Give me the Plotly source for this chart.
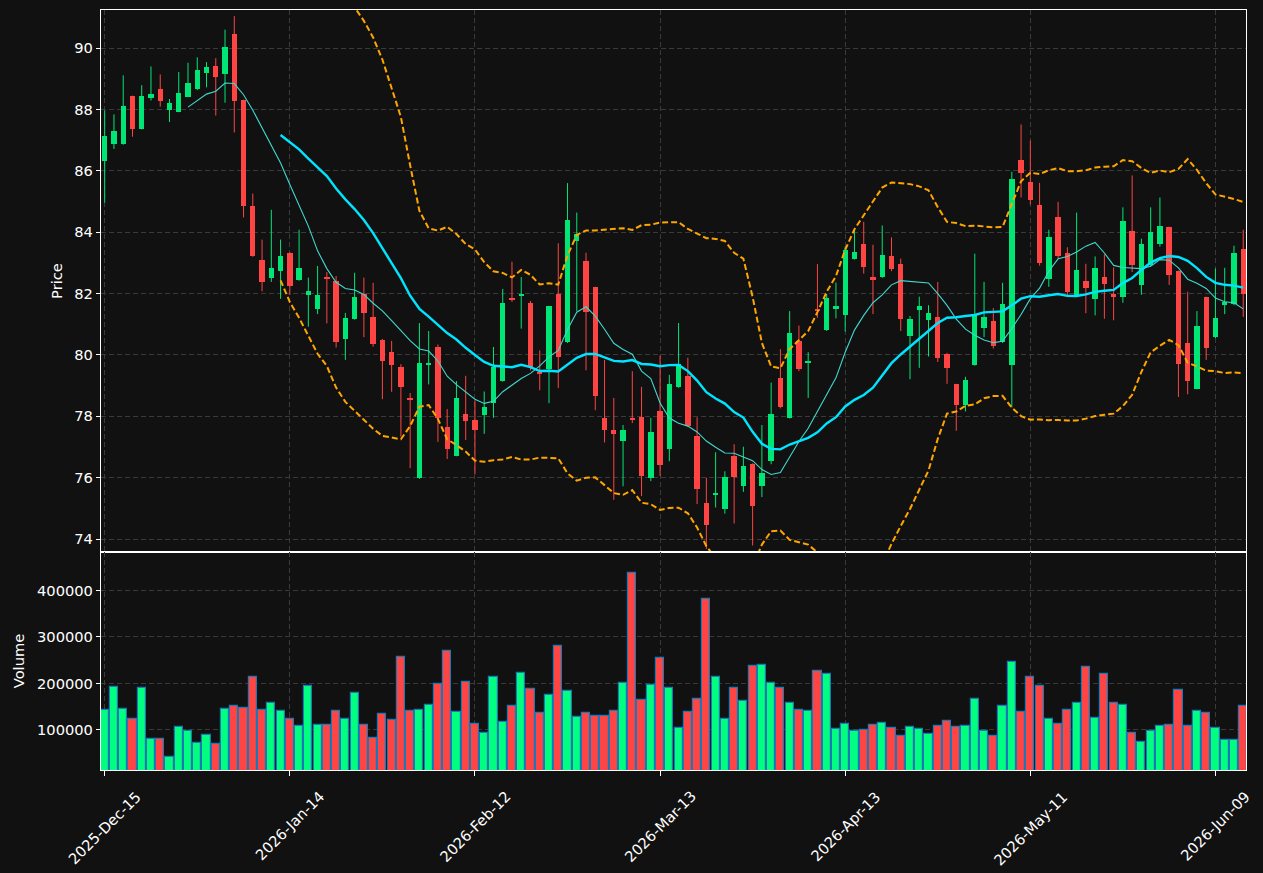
import numpy as np
import pandas as pd
import plotly.graph_objects as go

# ---------------- data ----------------
holidays = ["2025-12-25", "2026-01-01", "2026-01-19", "2026-02-16", "2026-04-03", "2026-05-25"]
dates = pd.bdate_range("2025-12-15", periods=124, freq="C", holidays=holidays)
date_labels = [d.strftime("%Y-%b-%d") for d in dates]

opens = [86.32, 86.87, 86.87, 88.43, 87.37, 88.37, 88.67, 87.99, 87.93, 88.42,
         88.65, 89.20, 89.42, 89.16, 90.46, 88.30, 84.87, 83.10, 82.51, 82.74,
         83.31, 82.44, 81.95, 81.49, 82.53, 82.42, 80.52, 81.17, 81.99, 81.23,
         80.50, 80.11, 79.62, 78.58, 75.98, 79.67, 80.27, 77.66, 76.72, 78.09,
         77.89, 78.03, 78.43, 79.15, 81.84, 81.91, 81.70, 79.43, 79.53, 81.99,
         80.41, 83.71, 83.07, 82.20, 77.95, 77.57, 77.21, 77.93, 77.98, 75.98,
         78.18, 76.92, 78.95, 79.32, 77.37, 75.18, 75.45, 74.99, 76.71, 75.72,
         76.45, 75.72, 76.55, 79.24, 77.95, 80.44, 79.75, 81.51, 80.80, 81.52,
         81.29, 83.13, 83.60, 82.53, 82.53, 83.23, 82.97, 80.61, 81.45, 81.13,
         81.25, 80.03, 79.04, 78.38, 79.67, 80.89, 81.11, 80.41, 79.67, 86.35,
         85.62, 84.88, 82.47, 84.51, 83.33, 81.92, 82.42, 81.82, 82.53, 81.98,
         81.90, 84.03, 82.28, 82.92, 83.62, 84.16, 82.73, 80.40, 78.90, 81.88,
         80.57, 81.62, 81.67, 83.44]
highs = [87.97, 87.84, 89.11, 88.45, 88.79, 89.40, 89.14, 88.34, 89.22, 89.52,
         89.70, 89.54, 89.67, 90.60, 91.04, 88.32, 85.26, 83.76, 84.73, 83.76,
         83.35, 84.08, 82.52, 82.90, 82.70, 82.57, 81.37, 82.68, 82.52, 82.35,
         80.52, 80.46, 79.70, 78.76, 81.04, 80.78, 80.34, 78.24, 79.15, 79.32,
         78.52, 78.81, 80.26, 82.15, 83.04, 82.54, 81.76, 80.15, 81.60, 83.64,
         85.60, 84.64, 83.33, 82.22, 79.84, 78.60, 77.72, 79.47, 78.96, 77.95,
         79.98, 79.35, 81.04, 79.91, 77.97, 76.00, 76.83, 76.21, 77.09, 77.01,
         76.47, 77.72, 79.10, 80.19, 81.43, 80.96, 80.09, 82.96, 81.99, 82.36,
         83.53, 84.05, 84.34, 83.59, 84.22, 83.83, 83.14, 81.27, 81.90, 81.62,
         82.38, 80.07, 79.06, 79.29, 83.30, 82.38, 81.53, 82.35, 85.97, 87.51,
         86.99, 85.61, 84.08, 84.99, 83.51, 84.64, 82.97, 83.21, 83.28, 82.85,
         84.81, 85.85, 83.79, 84.81, 85.13, 84.18, 82.75, 82.06, 81.43, 81.90,
         82.82, 82.84, 83.56, 84.08]
lows = [84.96, 86.71, 86.85, 87.11, 87.35, 88.29, 88.09, 87.59, 87.91, 88.40,
        88.63, 88.72, 87.80, 88.22, 87.25, 84.48, 83.20, 82.07, 82.38, 81.83,
        81.96, 82.42, 80.92, 81.33, 81.03, 80.24, 79.84, 81.15, 80.58, 80.27,
        78.56, 78.80, 77.34, 76.31, 75.96, 79.04, 77.17, 76.61, 76.70, 77.23,
        76.12, 77.43, 77.95, 79.13, 81.73, 80.86, 79.50, 78.85, 78.43, 78.92,
        80.39, 81.42, 79.50, 78.20, 77.15, 75.28, 75.72, 77.78, 75.40, 75.89,
        76.06, 76.54, 78.93, 77.67, 75.14, 73.68, 75.03, 74.83, 74.51, 75.54,
        73.79, 75.37, 76.44, 78.26, 77.93, 79.47, 78.60, 81.21, 80.78, 81.19,
        80.76, 83.11, 82.65, 81.33, 82.51, 82.73, 80.78, 79.21, 79.58, 79.95,
        79.77, 79.06, 77.53, 78.16, 79.65, 80.58, 80.21, 80.39, 78.29, 85.13,
        84.90, 82.91, 82.22, 83.16, 81.92, 81.90, 81.36, 81.29, 81.18, 81.13,
        81.70, 82.70, 81.96, 82.90, 83.53, 82.28, 78.63, 78.72, 78.88, 79.84,
        80.55, 81.33, 81.62, 81.24]
closes = [87.14, 87.30, 88.11, 87.37, 88.45, 88.50, 88.28, 88.21, 88.53, 88.87,
          89.29, 89.38, 89.07, 90.03, 88.28, 84.86, 83.22, 82.37, 82.82, 83.24,
          82.25, 82.85, 82.07, 81.97, 82.49, 80.41, 81.19, 81.90, 81.36, 80.36,
          79.79, 79.67, 78.95, 78.56, 79.75, 79.75, 77.95, 76.95, 78.60, 77.84,
          77.55, 78.32, 79.61, 81.70, 81.82, 81.99, 79.61, 79.38, 81.58, 79.92,
          84.39, 83.93, 81.39, 78.65, 77.55, 77.41, 77.56, 77.89, 76.06, 77.49,
          76.43, 79.04, 79.70, 77.69, 75.64, 74.46, 75.51, 76.02, 76.02, 76.39,
          75.09, 76.14, 78.09, 78.32, 80.70, 79.53, 79.81, 81.45, 81.84, 81.58,
          83.41, 83.37, 82.88, 82.45, 83.26, 82.79, 81.18, 81.18, 81.58, 81.37,
          79.90, 79.58, 78.37, 79.19, 81.31, 81.23, 80.30, 81.66, 85.73, 85.93,
          85.05, 83.01, 83.86, 83.24, 82.04, 82.76, 82.18, 82.85, 82.30, 81.89,
          84.35, 82.92, 83.61, 84.00, 84.19, 82.59, 79.69, 79.14, 80.96, 80.24,
          81.19, 81.72, 83.31, 81.98]
volumes = [143200, 192800, 145300, 123700, 190600, 80600, 80600, 41700, 106500, 97800,
           71900, 89200, 69800, 145300, 151800, 147500, 214400, 143200, 158300, 141000,
           123700, 108600, 195000, 110800, 110800, 141000, 123700, 179900, 110800, 82700,
           134500, 121600, 257600, 141000, 143200, 154000, 199300, 270500, 138800, 203600,
           112900, 93500, 214400, 117300, 151800, 223000, 188500, 136700, 175500, 281300,
           184200, 128100, 136700, 130200, 130200, 141000, 201400, 436700, 164700, 197100,
           255400, 190600, 104300, 138800, 166900, 382700, 214400, 123700, 190600, 162600,
           238100, 240300, 201400, 190600, 158300, 143200, 141000, 227300, 220900, 102200,
           112900, 97800, 100000, 110800, 115100, 104300, 87000, 106500, 102200, 91400,
           108600, 119400, 106500, 108600, 166900, 97800, 87000, 151800, 246800, 138800,
           214400, 195000, 123700, 112900, 143200, 158300, 236000, 125900, 220900, 158300,
           154000, 93500, 74100, 97800, 108600, 110800, 186300, 108600, 141000, 136700,
           104300, 78400, 78400, 151800]

price_ticks = [74, 76, 78, 80, 82, 84, 86, 88, 90]
volume_ticks = [100000, 200000, 300000, 400000]
date_tick_idx = [0, 20, 40, 60, 80, 100, 120]

# ---------------- derived ----------------
n = len(closes)
xs = list(range(n))
o = np.array(opens); c = np.array(closes)
up = c >= o
cl = pd.Series(closes)
ma10 = cl.rolling(10).mean()
ma20 = cl.rolling(20).mean()
sd20 = cl.rolling(20).std(ddof=0)
bb_up = ma20 + 2 * sd20
bb_lo = ma20 - 2 * sd20

UP_C = "#00e676"
DN_C = "#ff4444"
VUP_C = "#00ff80"
VDN_C = "#ff4444"
BG = "#111111"
GRID = "#3a3a3a"
FONT = "DejaVu Sans"
FS = 14.67

fig = go.Figure()

# wicks
for mask, col in ((up, UP_C), (~up, DN_C)):
    wx, wy = [], []
    for i in range(n):
        if mask[i]:
            wx += [xs[i], xs[i], None]
            wy += [lows[i], highs[i], None]
    fig.add_trace(go.Scatter(x=wx, y=wy, mode="lines", line=dict(color=col, width=1),
                             hoverinfo="skip", showlegend=False, xaxis="x", yaxis="y"))

# bodies
base = np.minimum(o, c)
hgt = np.maximum(np.abs(c - o), 0.04)
fig.add_trace(go.Bar(x=xs, y=hgt, base=base, width=0.58,
                     marker=dict(color=[UP_C if u else DN_C for u in up], line=dict(width=0)),
                     showlegend=False, xaxis="x", yaxis="y"))

# moving averages and bands
fig.add_trace(go.Scatter(x=xs, y=ma10, mode="lines", line=dict(color="#40d8cf", width=1.1),
                         showlegend=False, xaxis="x", yaxis="y"))
fig.add_trace(go.Scatter(x=xs, y=ma20, mode="lines", line=dict(color="#00e5ff", width=2.4),
                         showlegend=False, xaxis="x", yaxis="y"))
for band in (bb_up, bb_lo):
    fig.add_trace(go.Scatter(x=xs, y=band, mode="lines",
                             line=dict(color="#ffa500", width=2, dash="6px,3px"),
                             showlegend=False, xaxis="x", yaxis="y"))

# volume
fig.add_trace(go.Bar(x=xs, y=volumes, width=0.88,
                     marker=dict(color=[VUP_C if u else VDN_C for u in up],
                                 line=dict(color="#1f77b4", width=1.2)),
                     showlegend=False, xaxis="x2", yaxis="y2"))

split = (770 - 552) / 760.0
xr = [-0.4, 123.3]
common_x = dict(range=xr, tickmode="array", tickvals=date_tick_idx,
                showgrid=True, gridcolor=GRID, griddash="5px,3px", gridwidth=1,
                showline=True, mirror=True, linecolor="white", linewidth=1.2,
                zeroline=False)
common_y = dict(showgrid=True, gridcolor=GRID, griddash="5px,3px", gridwidth=1,
                showline=True, mirror=True, linecolor="white", linewidth=1.2,
                zeroline=False, ticks="outside", ticklen=4, tickcolor="white",
                tickfont=dict(family=FONT, size=FS, color="white"))

fig.update_layout(
    width=1263, height=873,
    paper_bgcolor=BG, plot_bgcolor=BG,
    margin=dict(l=101, r=17, t=10, b=103),
    barmode="overlay",
    bargap=0,
    font=dict(family=FONT, size=FS, color="white"),
    xaxis=dict(domain=[0, 1], anchor="y", showticklabels=False, ticks="", matches="x2", **common_x),
    yaxis=dict(domain=[split, 1], range=[73.58, 91.24], tickvals=price_ticks,
               title=dict(text="Price", standoff=8, font=dict(family=FONT, size=FS, color="white")),
               **common_y),
    xaxis2=dict(domain=[0, 1], anchor="y2", showticklabels=False, ticks="outside", ticklen=5,
                tickcolor="white", **common_x),
    yaxis2=dict(domain=[0, split], range=[13400, 482900], tickvals=volume_ticks, tickformat="d",
                title=dict(text="Volume", standoff=8, font=dict(family=FONT, size=FS, color="white")),
                **common_y),
)

for k in date_tick_idx:
    fig.add_annotation(x=k, y=-0.02, xref="x2", yref="paper", text=date_labels[k],
                       showarrow=False, textangle=-45, xanchor="center", yanchor="top",
                       font=dict(family=FONT, size=FS, color="white"))

fig.write_html("out.html")
